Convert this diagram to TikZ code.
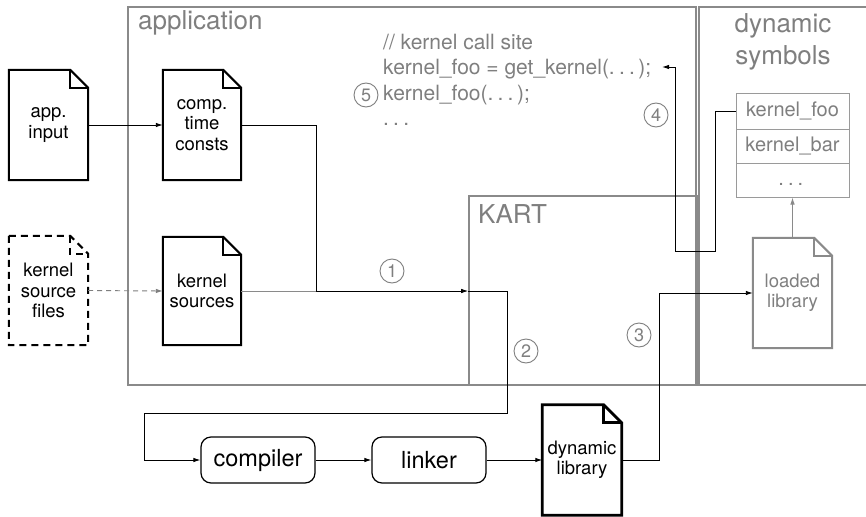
\documentclass[tikz,border=0pt]{standalone}
\usepackage{fontspec}
\setmainfont{TeX Gyre Heros}
\usetikzlibrary{arrows.meta}

\definecolor{framegray}{HTML}{8A8A8A}
\definecolor{textgray}{HTML}{7F7F7F}
\definecolor{symgray}{HTML}{9A9A9A}

% spaced ellipsis
\newcommand\sdots{.\kern.2em.\kern.2em.\kern.17em}

% outline of a dog-eared document around a named node
\newcommand\docoutline[2][]{%
  \draw[docline,#1] (#2.north west) -- ([xshift=-18pt]#2.north east)
    -- ([yshift=-18pt]#2.north east) -- (#2.south east)
    -- (#2.south west) -- cycle;
  \draw[docline,#1] ([xshift=-18pt]#2.north east) |- ([yshift=-18pt]#2.north east);}

\tikzset{
  frame/.style={draw=framegray, line width=2pt, inner sep=0pt},
  head/.style={text=textgray, inner sep=0pt, font=\fontsize{26}{32}\selectfont},
  doc/.style={inner sep=0pt, align=center, minimum width=79pt, minimum height=110pt,
              font=\fontsize{18.5}{20.5}\selectfont},
  docline/.style={line width=2pt, line join=miter},
  proc/.style={draw, rounded corners=10pt, line width=1.2pt, inner sep=0pt,
               minimum width=114pt, minimum height=46pt, font=\fontsize{23.5}{26}\selectfont},
  conn/.style={line width=0.9pt, -{Latex[length=7pt,width=4.5pt]}},
  num/.style={circle, draw=textgray, line width=0.9pt, text=textgray, inner sep=0pt,
              minimum size=24pt, font=\fontsize{18}{18}\selectfont},
  sym/.style={draw=symgray, line width=1pt, minimum width=113pt, inner sep=0pt,
              text height=14pt, text depth=4pt, text=textgray,
              font=\fontsize{20}{22}\selectfont},
  codeline/.style={anchor=base west, text=textgray, inner sep=0pt,
                   font=\fontsize{21}{25}\selectfont},
}

\begin{document}
\begin{tikzpicture}[x=1pt, y=-1pt]
\useasboundingbox (0,0) rectangle (866,516);
\fill[white] (0,0) rectangle (866,516);

% regions
\node[frame, minimum width=568pt, minimum height=378pt] (appframe) at (412,196) {};
\node[frame, minimum width=228pt, minimum height=189pt] (kart) at (583,290.5) {};
\node[frame, minimum width=201.5pt, minimum height=378pt] (dynsym) at (799.25,196) {};

\node[head, anchor=base west] (apptitle) at (138,30) {application};
\node[head, anchor=base west] (karttitle) at (478,223) {KART};
\node[head, anchor=base] (symtitle1) at (783,33) {dynamic};
\node[head, anchor=base] (symtitle2) at (783,65) {symbols};

% documents
\node[doc] (appin) at (48.5,125) {app.\\input};
\docoutline{appin}
\node[doc, minimum width=78pt] (consts) at (202,125) {comp.\\time\\consts};
\docoutline{consts}
\node[doc, minimum height=109pt] (ksf) at (48.5,290.5) {kernel\\source\\files};
\docoutline[dash pattern=on 7pt off 5pt]{ksf}
\node[doc, minimum width=78pt, minimum height=108pt] (ks) at (202,291) {kernel\\sources};
\docoutline{ks}
\node[doc] (dynlib) at (582,460) {dynamic\\library};
\docoutline[line width=2.8pt]{dynlib}
\node[doc, text=textgray] (loaded) at (792.5,293) {loaded\\library};
\docoutline[draw=framegray]{loaded}

% tool chain
\node[proc] (compiler) at (258,460) {compiler};
\node[proc] (linker) at (429,460) {linker};

% symbol table
\node[sym, minimum height=35pt] (sym1) at (792.5,111.5) {kernel\_foo};
\node[sym, minimum height=34pt] (sym2) at (792.5,146) {kernel\_bar};
\node[sym, minimum height=34pt] (sym3) at (792.5,180) {\sdots};

% call site code
\node[codeline] (code1) at (383,50) {// kernel call site};
\node[codeline] (code2) at (383,75) {kernel\_foo = get\_kernel(\sdots);};
\node[codeline] (code3) at (383,100) {kernel\_foo(\sdots);};
\node[codeline] (code4) at (383,125) {\sdots};

% step numbers
\node[num] (n1) at (392,271) {1};
\node[num] (n2) at (526,351) {2};
\node[num] (n3) at (639,335) {3};
\node[num] (n4) at (656,115) {4};
\node[num] (n5) at (366,95) {5};

% connectors
\draw[conn] (appin.east) -- (consts.west);
\draw[conn, draw=textgray, dash pattern=on 5pt off 4pt] (ksf.east) -- (ks.west);
\draw[conn, draw=framegray] (ks.east) -- (ks.east -| kart.west);
\draw[conn] (consts.east) -| (316,291) -- (ks.east -| kart.west);
\draw[conn] (ks.east -| kart.west) -- (507,291) |- (144,413) |- (compiler.west);
\draw[conn] (compiler.east) -- (linker.west);
\draw[conn] (linker.east) -- (dynlib.west);
\draw[conn] (dynlib.east) -| (659,293) -- (loaded.west);
\draw[conn, draw=framegray, line width=0.8pt] (loaded.north) -- (sym3.south);
\coordinate (ret) at (662,67);
\draw[conn] (sym1.west) -| (715,251) -| (675,67) -- (ret);
\end{tikzpicture}
\end{document}
